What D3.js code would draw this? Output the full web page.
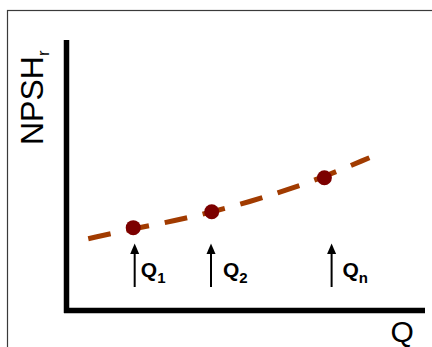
<!DOCTYPE html>
<html>
<head>
<meta charset="utf-8">
<script src="https://cdn.jsdelivr.net/npm/d3@7"></script>
<style>
  html, body { margin: 0; padding: 0; background: #fff; }
  svg { display: block; }
  text { font-family: "Liberation Sans", Arial, sans-serif; }
</style>
</head>
<body>
<script>
// ---- data ----
const curveQ    = [5.9, 18.4, 30.2, 40.2, 50.8, 60.9, 71.5, 84.0];
const curveNPSH = [26.4, 30.1, 33.1, 36.3, 40.1, 44.4, 49.3, 56.4];
const pointQ    = [18.4, 40.2, 71.5];
const pointNPSH = [30.5, 36.4, 49.0];
const arrowQ    = [18.8, 40.0, 73.5];
const labelQ    = [20.5, 43.3, 76.5];
const labelSubs = ["1", "2", "n"];
const yTitle = "NPSH", yTitleSub = "r";
const xTitle = "Q";

const W = 432, H = 347;
const svg = d3.select("body").append("svg").attr("width", W).attr("height", H);

const x = d3.scaleLinear().domain([0, 100]).range([67, 427]);
const y = d3.scaleLinear().domain([0, 100]).range([310, 40]);

// frame
svg.append("rect").attr("x", 7.5).attr("y", 10.5).attr("width", 600).attr("height", 600)
  .attr("fill", "none").attr("stroke", "#3a3a3a").attr("stroke-width", 1.2);

// axes
svg.append("line").attr("x1", x(0) - 0.5).attr("x2", x(0) - 0.5)
  .attr("y1", y(100)).attr("y2", y(0) + 3)
  .attr("stroke", "#000").attr("stroke-width", 5.5);
svg.append("line").attr("x1", x(0) - 3).attr("x2", x(100) - 2)
  .attr("y1", y(0) + 0.5).attr("y2", y(0) + 0.5)
  .attr("stroke", "#000").attr("stroke-width", 5.5);

// dashed curve
const curveData = curveQ.map((q, i) => [q, curveNPSH[i]]);
const line = d3.line().x(d => x(d[0])).y(d => y(d[1])).curve(d3.curveBasis);
svg.append("path").datum(curveData).attr("d", line)
  .attr("fill", "none").attr("stroke", "#a13b00").attr("stroke-width", 5)
  .attr("stroke-dasharray", "23,16");

// points
svg.selectAll("circle.pt").data(pointQ.map((q, i) => [q, pointNPSH[i]])).join("circle")
  .attr("class", "pt").attr("cx", d => x(d[0])).attr("cy", d => y(d[1])).attr("r", 7.5)
  .attr("fill", "#7c0000");

// arrows
const arrowTop = 243.5, arrowBottom = 287;
arrowQ.forEach(q => {
  svg.append("line").attr("x1", x(q)).attr("x2", x(q)).attr("y1", arrowBottom).attr("y2", arrowTop + 9)
    .attr("stroke", "#000").attr("stroke-width", 2);
  svg.append("path")
    .attr("d", `M${x(q)},${arrowTop} L${x(q) + 4.5},${arrowTop + 10.5} L${x(q) - 4.5},${arrowTop + 10.5} Z`)
    .attr("fill", "#000");
});

// labels Q1, Q2, Qn
labelQ.forEach((q, i) => {
  const t = svg.append("text").attr("x", x(q)).attr("y", 277)
    .attr("font-size", 21).attr("font-weight", "bold").attr("fill", "#000");
  t.append("tspan").text("Q");
  t.append("tspan").attr("dy", 5.5).attr("font-size", 15).text(labelSubs[i]);
});

// y title
const yt = svg.append("text").attr("transform", "translate(43,145) rotate(-90)")
  .attr("font-size", 32).attr("fill", "#000");
yt.append("tspan").text(yTitle);
yt.append("tspan").attr("dy", 6).attr("font-size", 17).text(yTitleSub);

// x title
svg.append("text").attr("x", 390.5).attr("y", 342).attr("font-size", 30).attr("fill", "#000").text(xTitle);
</script>
</body>
</html>
